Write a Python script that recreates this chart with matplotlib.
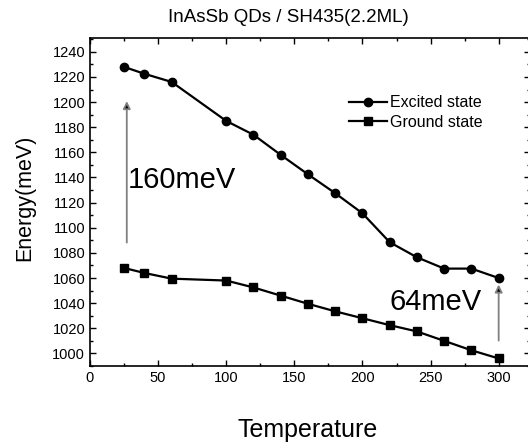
import matplotlib
matplotlib.use("Agg")
import matplotlib.pyplot as plt
from matplotlib.ticker import MultipleLocator

plt.rcParams['font.family'] = ['Liberation Sans', 'DejaVu Sans']

# PL peak energies vs temperature
temperature = [25, 40, 60, 100, 120, 140, 160, 180, 200, 220, 240, 260, 280, 300]
excited = [1228, 1222.5, 1216, 1185, 1174, 1158, 1142.5, 1127.5, 1111.5, 1088.5, 1076.5, 1067.5, 1067.5, 1060]
ground = [1068, 1064, 1059.5, 1058, 1052.5, 1046, 1039.5, 1033.5, 1028, 1022.5, 1017.5, 1010, 1002.5, 996]

gap_labels = ["160meV", "64meV"]

fig = plt.figure(figsize=(5.28, 4.48), dpi=100)
ax = fig.add_axes([90/528, 1 - 366/448, 440/528, 328/448])

ax.plot(temperature, excited, '-o', color='k', lw=1.6, ms=6, label='Excited state')
ax.plot(temperature, ground, '-s', color='k', lw=1.6, ms=5.5, label='Ground state')

ax.set_xlim(0, 323)
ax.set_ylim(990, 1251)
ax.xaxis.set_major_locator(MultipleLocator(50))
ax.xaxis.set_minor_locator(MultipleLocator(25))
ax.yaxis.set_major_locator(MultipleLocator(20))
ax.yaxis.set_minor_locator(MultipleLocator(10))
ax.tick_params(which='both', direction='in', top=True, right=True, labelsize=10.5, width=1)
ax.tick_params(which='major', length=4.5)
ax.tick_params(which='minor', length=2.5)
for s in ax.spines.values():
    s.set_linewidth(1.2)

# energy separation arrows
arrow_kw = dict(arrowstyle='-|>', ec='0.5', fc='k', lw=1.3, mutation_scale=11)
ax.annotate('', xy=(27, excited[0] - 25), xytext=(27, ground[0] + 18), arrowprops=arrow_kw)
ax.annotate('', xy=(300, excited[-1] - 3), xytext=(300, ground[-1] + 12), arrowprops=arrow_kw)
ax.text(28, 1138, gap_labels[0], fontsize=21, va='center', ha='left')
ax.text(220, 1041, gap_labels[1], fontsize=21, va='center', ha='left')

ax.legend(loc='upper left', bbox_to_anchor=(0.57, 0.85), frameon=False, fontsize=11.5,
          handlelength=2.4, handletextpad=0.2, labelspacing=0.3, borderpad=0)

fig.text(0.547, 1 - 17/448, 'InAsSb QDs / SH435(2.2ML)', ha='center', va='center', fontsize=13.5)
fig.text(308/528, 1 - 430/448, 'Temperature', ha='center', va='center', fontsize=18)
fig.text(25/528, 1 - 198/448, 'Energy(meV)', ha='center', va='center', rotation=90, fontsize=15.5)

fig.savefig('out.png', dpi=100)
